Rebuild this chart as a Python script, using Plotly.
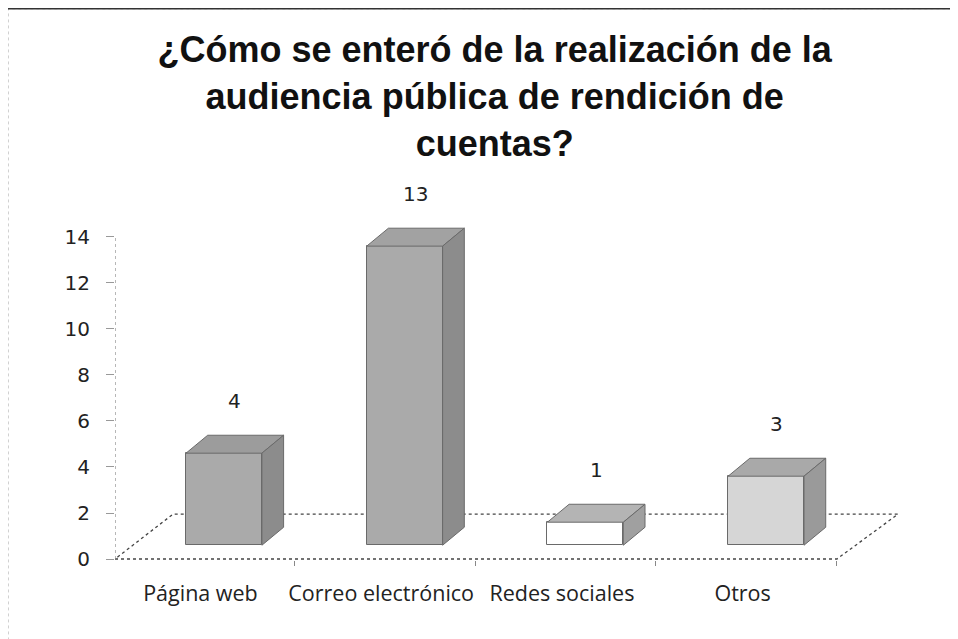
import plotly.graph_objects as go

# ---------------- data ----------------
categories = ["Página web", "Correo electrónico", "Redes sociales", "Otros"]
values = [4, 13, 1, 3]
y_ticks = [0, 2, 4, 6, 8, 10, 12, 14]
title_lines = ["¿Cómo se enteró de la realización de la",
               "audiencia pública de rendición de",
               "cuentas?"]

# ---------------- style / geometry ----------------
front_colors = ["#aaaaaa", "#aaaaaa", "#ffffff", "#d6d6d6"]
top_colors = ["#9c9c9c", "#a2a2a2", "#b4b4b4", "#a9a9a9"]
side_colors = ["#8c8c8c", "#8c8c8c", "#a0a0a0", "#9a9a9a"]
edge_color = "#6a6a6a"

BAR_W = 0.42      # x units
DX = 0.12         # depth offset x
DY = 0.78         # depth offset y
BASE = 0.6        # bars sit slightly back on the floor
FLOOR_FRONT = (-0.603, 3.392)
FLOOR_BACK = (-0.282, 3.730)
FLOOR_DEPTH = 1.95
X_RANGE = [-0.603, 3.730]
Y_RANGE = [-0.043, 16.04]
LABEL_SHIFT = -0.13
BOUNDARY_SHIFT = -0.61

xs = list(range(len(categories)))

fig = go.Figure()

# front faces
fig.add_trace(go.Bar(
    x=xs, y=values, base=[BASE] * len(values), width=BAR_W,
    marker=dict(color=front_colors, line=dict(color=edge_color, width=1)),
    showlegend=False, hoverinfo="skip",
))

# top and side faces (pseudo 3D) built from the data
for i, v in enumerate(values):
    x0 = xs[i] - BAR_W / 2
    x1 = xs[i] + BAR_W / 2
    top = BASE + v
    fig.add_trace(go.Scatter(
        x=[x0, x1, x1 + DX, x0 + DX, x0],
        y=[top, top, top + DY, top + DY, top],
        fill="toself", fillcolor=top_colors[i], mode="lines",
        line=dict(color=edge_color, width=1), showlegend=False, hoverinfo="skip",
    ))
    fig.add_trace(go.Scatter(
        x=[x1, x1 + DX, x1 + DX, x1, x1],
        y=[BASE, BASE + DY, top + DY, top, BASE],
        fill="toself", fillcolor=side_colors[i], mode="lines",
        line=dict(color=edge_color, width=1), showlegend=False, hoverinfo="skip",
    ))
    fig.add_annotation(
        x=xs[i] + DX / 2, y=top + DY, text=str(v), showarrow=False,
        yanchor="middle", yshift=34,
        font=dict(family="DejaVu Sans", size=20, color="#222222"),
    )

# floor (3D base plane)
fig.add_shape(
    type="path", layer="below",
    path=(f"M {FLOOR_FRONT[0]},0 L {FLOOR_FRONT[1]},0 "
          f"L {FLOOR_BACK[1]},{FLOOR_DEPTH} L {FLOOR_BACK[0]},{FLOOR_DEPTH} Z"),
    xref="x", yref="y", line=dict(color="#444444", width=1.3, dash="dot"),
    fillcolor="white",
)
# vertical value axis line
fig.add_shape(type="line", xref="x", yref="y",
              x0=X_RANGE[0], x1=X_RANGE[0], y0=0, y1=y_ticks[-1],
              line=dict(color="#888888", width=1.2, dash="dot"))
# outer frame
fig.add_shape(type="rect", xref="paper", yref="paper",
              x0=-0.1366, x1=1.085, y0=-0.235, y1=1.49,
              line=dict(color="#aaaaaa", width=1, dash="dot"))
fig.add_shape(type="line", xref="paper", yref="paper",
              x0=-0.1366, x1=1.085, y0=1.49, y1=1.49,
              line=dict(color="#333333", width=1.5))

fig.update_layout(
    width=958, height=639,
    margin=dict(l=107, r=68, t=182, b=87),
    paper_bgcolor="white", plot_bgcolor="white",
    title=dict(text="<br>".join("<b>" + s + "</b>" for s in title_lines),
               x=0.508, xref="container", xanchor="center",
               y=0.915, yanchor="top",
               font=dict(family="Liberation Sans", size=36, color="#111111")),
    font=dict(family="Open Sans", color="#222222"),
    xaxis=dict(range=X_RANGE, tickmode="array",
               tickvals=[x + LABEL_SHIFT for x in xs], ticktext=categories,
               showgrid=False, zeroline=False, showline=False, ticks="",
               ticklabelstandoff=18,
               minor=dict(tickvals=[x + BOUNDARY_SHIFT for x in range(len(categories) + 1)],
                          ticks="outside", ticklen=5, tickcolor="#888888", showgrid=False),
               tickfont=dict(family="Open Sans", size=21.5, color="#222222")),
    yaxis=dict(range=Y_RANGE, tickmode="array", tickvals=y_ticks,
               showgrid=False, zeroline=False, showline=False,
               ticks="outside", ticklen=8, tickcolor="#999999",
               ticklabelstandoff=12,
               tickfont=dict(family="DejaVu Sans", size=20, color="#222222")),
    bargap=0,
)

fig.write_html("out.html")
